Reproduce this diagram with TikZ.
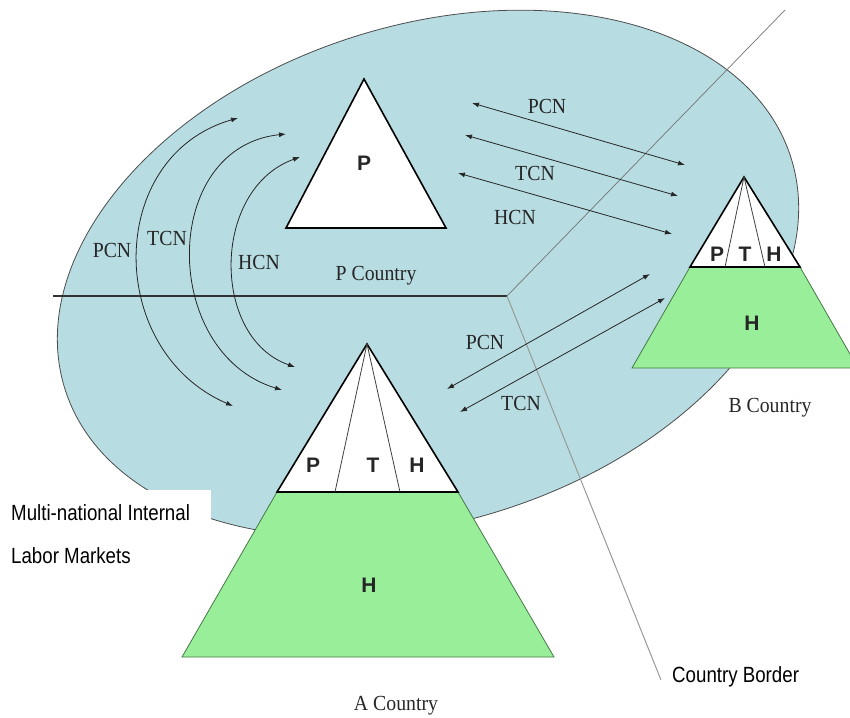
\documentclass[tikz,border=0pt]{standalone}
\usepackage{fontspec}
\setmainfont{Liberation Serif}
\newfontfamily\labelfont[FakeStretch=0.92]{Liberation Serif}
\newfontfamily\narrowfont[FakeStretch=0.85]{Liberation Sans}
\newfontfamily\letterfont{Liberation Sans}
\usetikzlibrary{arrows.meta}
\definecolor{marketblue}{RGB}{183,221,226}
\definecolor{pyrgreen}{RGB}{153,238,153}
\definecolor{pyredge}{RGB}{70,120,70}

\begin{document}
\begin{tikzpicture}[x=1pt, y=-1pt,
  flow/.style={{Latex[length=7pt,width=5pt]}-{Latex[length=7pt,width=5pt]}, line width=0.8pt, draw=black!85},
  serif/.style={font=\labelfont\fontsize{21.5}{25}\selectfont, inner sep=0pt, text=black!85},
  letter/.style={font=\letterfont\bfseries\fontsize{21}{25}\selectfont, inner sep=0pt, text=black!85},
  narrow/.style={font=\narrowfont\fontsize{22}{26}\selectfont, inner sep=0pt, anchor=west}]

\useasboundingbox (0,0) rectangle (850,717);

% multi-national market
\draw[fill=marketblue, draw=black!70, line width=0.8pt, rotate around={17.8:(428,273.5)}]
  (428,273.5) ellipse [x radius=381, y radius=248];

% country borders
\coordinate (corner) at (507,296);
\coordinate (lineW) at (53,296);
\coordinate (lineNE) at (785,10);
\coordinate (lineS) at (661,680);
\draw[black!80, line width=1.2pt] (lineW) -- (corner);
\draw[black!55, line width=0.7pt] (corner) -- (lineNE);
\draw[black!40, line width=1pt] (corner) -- (lineS);

% flows inside P country
\coordinate (pcnTop) at (238,118);
\coordinate (pcnBot) at (233,406);
\coordinate (tcnTop) at (286,134);
\coordinate (tcnBot) at (282,390);
\coordinate (hcnTop) at (300,157);
\coordinate (hcnBot) at (295,367);
\draw[flow] (pcnBot) .. controls (105,351) and (105,156) .. (pcnTop);
\draw[flow] (tcnBot) .. controls (160,353) and (160,147) .. (tcnTop);
\draw[flow] (hcnBot) .. controls (211,338) and (211,189) .. (hcnTop);
\node (pcnL) [serif] at (112,250) {PCN};
\node (tcnL) [serif] at (167,238) {TCN};
\node (hcnL) [serif] at (259,262) {HCN};

% flows between P and B
\coordinate (pbP1) at (472,103);
\coordinate (pbB1) at (685,165);
\coordinate (pbP2) at (465,135);
\coordinate (pbB2) at (678,196);
\coordinate (pbP3) at (458,173);
\coordinate (pbB3) at (672,234);
\draw[flow] (pbP1) -- (pbB1);
\draw[flow] (pbP2) -- (pbB2);
\draw[flow] (pbP3) -- (pbB3);
\node (pbPCN) [serif] at (547,106) {PCN};
\node (pbTCN) [serif] at (535,173) {TCN};
\node (pbHCN) [serif] at (515,217) {HCN};

% flows between A and B
\coordinate (abA1) at (447,389);
\coordinate (abB1) at (650,274);
\coordinate (abA2) at (460,412);
\coordinate (abB2) at (665,298);
\draw[flow] (abA1) -- (abB1);
\draw[flow] (abA2) -- (abB2);
\node (abPCN) [serif] at (485,342) {PCN};
\node (abTCN) [serif] at (521,403) {TCN};

% P country
\coordinate (pApex) at (364,79);
\draw[fill=white, line width=1.6pt, line join=miter] (pApex) -- (446,228) -- (286,228) -- cycle;
\node (pLetter) [letter] at (364,163) {P};
\node (pName) [serif] at (376,276) {P Country};

% A country
\coordinate (aApex) at (367,344);
\draw[fill=pyrgreen, draw=pyredge, line width=0.8pt] (277,492) -- (458,492) -- (554,657) -- (182,657) -- cycle;
\draw[fill=white, line width=1.6pt] (aApex) -- (458,492) -- (277,492) -- cycle;
\draw[black!75, line width=0.8pt] (aApex) -- (335,492);
\draw[black!75, line width=0.8pt] (aApex) -- (400,492);
\node (aP) [letter] at (313,465) {P};
\node (aT) [letter] at (373,465) {T};
\node (aH) [letter] at (417,465) {H};
\node (aHost) [letter] at (369,585) {H};
\node (aName) [serif] at (396,706) {A Country};

% B country
\coordinate (bApex) at (744,177);
\draw[fill=pyrgreen, draw=pyredge, line width=0.8pt] (690,267) -- (800,267) -- (858,368) -- (632,368) -- cycle;
\draw[fill=white, line width=1.6pt] (bApex) -- (800,267) -- (690,267) -- cycle;
\draw[black!75, line width=0.8pt] (bApex) -- (725,267);
\draw[black!75, line width=0.8pt] (bApex) -- (765,267);
\node (bP) [letter] at (717,254) {P};
\node (bT) [letter] at (745,254) {T};
\node (bH) [letter] at (774,254) {H};
\node (bHost) [letter] at (752,323) {H};
\node (bName) [serif] at (770,408) {B Country};

% labels
\fill[white] (0,490) rectangle (211,540);
\node (mktL1) [narrow] at (11,513) {Multi-national Internal};
\node (mktL2) [narrow] at (11,556) {Labor Markets};
\node (border) [narrow] at (672,677) {Country Border};
\end{tikzpicture}
\end{document}
